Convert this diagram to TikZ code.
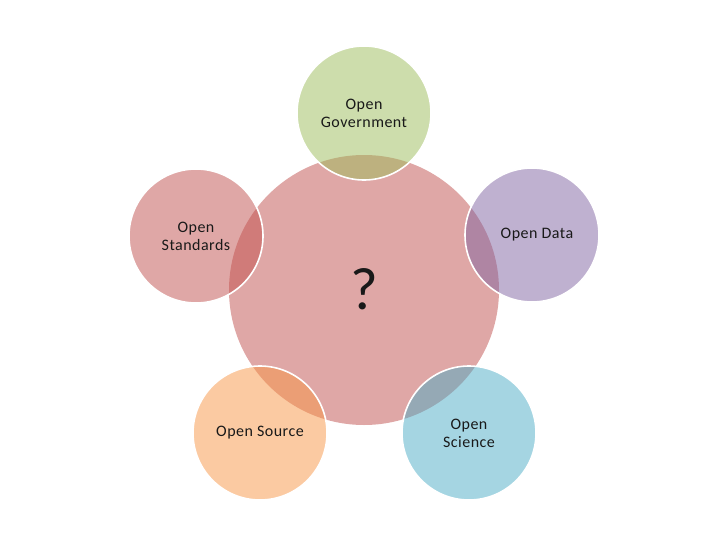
\documentclass[tikz,border=0pt]{standalone}
\usepackage{fontspec}
\setmainfont{Carlito}[LetterSpace=3]
\definecolor{cred}{RGB}{192,80,77}
\definecolor{cgreen}{RGB}{155,187,89}
\definecolor{cpurple}{RGB}{128,100,162}
\definecolor{corange}{RGB}{247,150,70}
\definecolor{cblue}{RGB}{75,172,198}
\definecolor{ctext}{RGB}{25,25,25}
\begin{document}
\begin{tikzpicture}[x=1pt,y=-1pt,
  hub/.style={circle,minimum size=270pt,inner sep=0pt,fill=cred,fill opacity=0.5},
  mark text/.style={text=ctext,font=\fontsize{60}{64}\selectfont},
  petal/.style={circle,minimum size=134pt,inner sep=0pt,fill opacity=0.5,text opacity=1,text=ctext,draw=white,draw opacity=1,line width=1.6pt,align=center,font=\fontsize{16}{18}\selectfont}]
\useasboundingbox (0,0) rectangle (728,546);
\node[hub] (c) at (364,290) {};
\node[mark text] (q) at (364,289) {?};
\node[petal,fill=cgreen] (gov) at (364,113) {Open\\Government};
\node[petal,fill=cpurple] (data) at (532,235) {\hspace*{10pt}Open Data};
\node[petal,fill=cred] (std) at (196,236) {Open\\Standards};
\node[petal,fill=corange] (src) at (260,433) {Open Source};
\node[petal,fill=cblue] (sci) at (469,433) {Open\\Science};
\end{tikzpicture}
\end{document}
